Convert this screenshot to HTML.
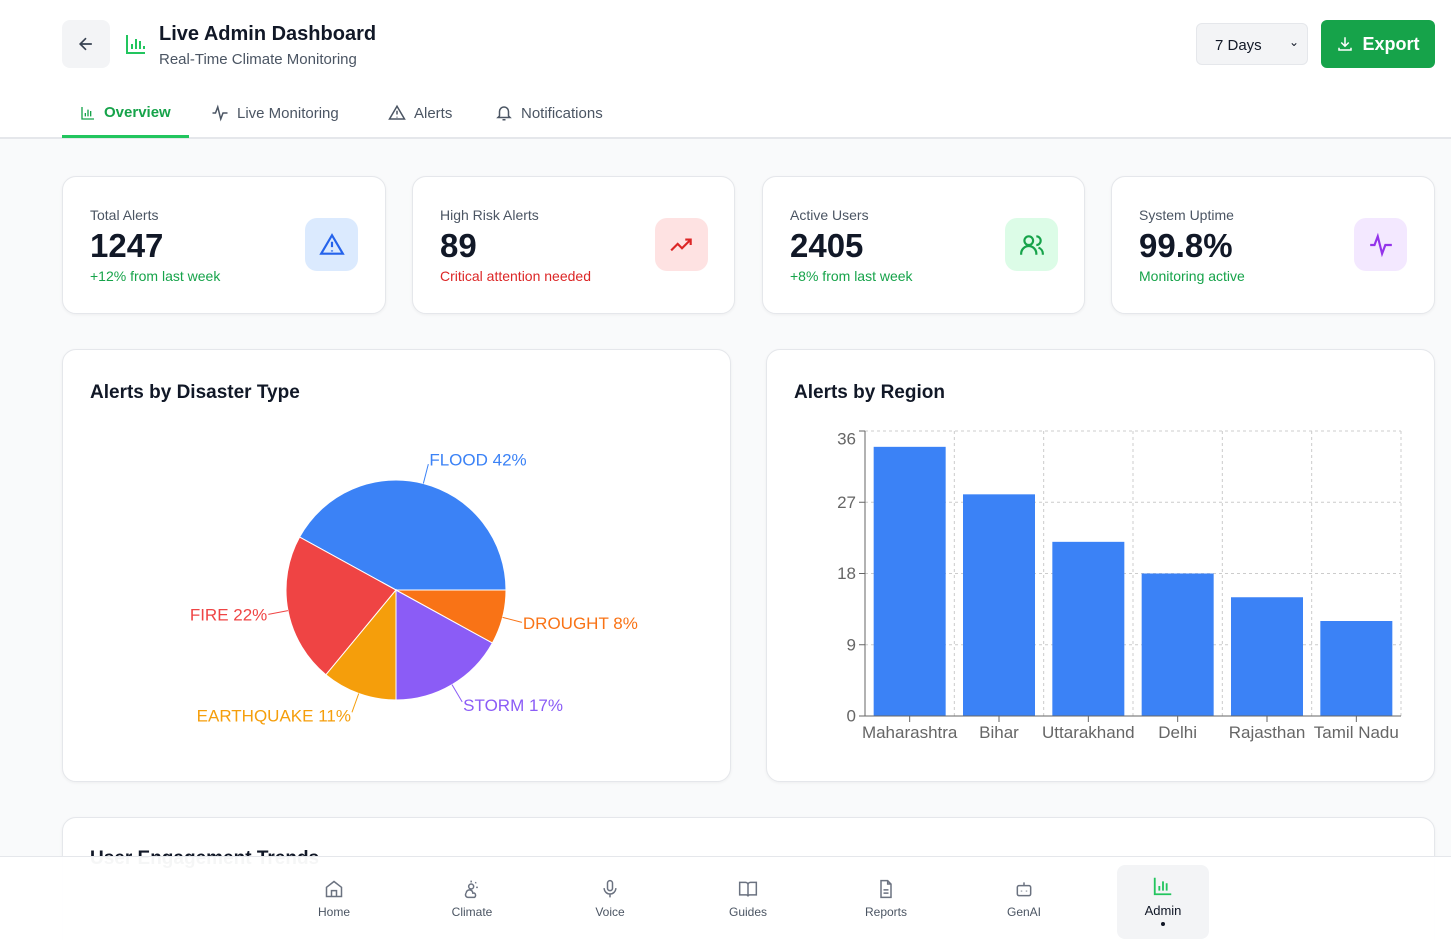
<!DOCTYPE html>
<html><head><meta charset="utf-8">
<style>
*{box-sizing:border-box;margin:0;padding:0}
html,body{width:1451px;height:940px;overflow:hidden}
body{background:#f9fafb;font-family:"Liberation Sans",sans-serif;color:#111827;position:relative}
.header{position:absolute;left:0;top:0;width:1451px;height:139px;background:#fff;border-bottom:2px solid #e5e7eb}
.back{position:absolute;left:62px;top:20px;width:48px;height:48px;border-radius:8px;background:#f3f4f6;display:flex;align-items:center;justify-content:center}
.title{position:absolute;left:159px;top:23px;font-size:20px;font-weight:bold}
.sub{position:absolute;left:159px;top:51px;font-size:15px;color:#4b5563}
.sel{position:absolute;left:1196px;top:23px;width:112px;height:42px;border:1px solid #e5e7eb;border-radius:6px;background:#f3f4f6;font-size:15px;padding:13px 18px}
.exp{position:absolute;left:1321px;top:20px;width:114px;height:48px;border-radius:6px;background:#16a34a;color:#fff;font-weight:bold;font-size:18px;display:flex;align-items:center;justify-content:center;gap:8px}
.tab{position:absolute;top:104px;font-size:15px;color:#4b5563;display:flex;align-items:center;gap:8px}
.card{position:absolute;background:#fff;border:1px solid #e5e7eb;border-radius:14px;box-shadow:0 1px 3px rgba(0,0,0,.05)}
.lbl{position:absolute;left:27px;top:30px;font-size:14px;color:#4b5563}
.val{position:absolute;left:27px;top:50px;font-size:33px;font-weight:bold}
.note{position:absolute;left:27px;top:91px;font-size:14px}
.ic{position:absolute;left:242px;top:41px;width:53px;height:53px;border-radius:12px;display:flex;align-items:center;justify-content:center}
.ctitle{position:absolute;left:27px;top:32px;font-size:19px;font-weight:bold}
.nav{position:absolute;left:0;top:856px;width:1451px;height:84px;background:rgba(255,255,255,.96);border-top:1px solid #e5e7eb}
.ni{position:absolute;top:0;width:92px;height:84px;display:flex;flex-direction:column;align-items:center;padding-top:22px;font-size:12px;color:#4b5563;gap:6px}
</style></head><body>
<div class="header">
 <div class="back"><svg width="20" height="20" viewBox="0 0 24 24" fill="none" stroke="#374151" stroke-width="2"><path d="M19 12H5M12 19l-7-7 7-7"/></svg></div>
 <svg style="position:absolute;left:124px;top:32px" width="24" height="24" viewBox="0 0 24 24" fill="none" stroke="#22c55e" stroke-width="2"><path d="M3 3v18h18M8 17v-5M12 17V7M16 17v-8M20 17v-3"/></svg>
 <div class="title">Live Admin Dashboard</div>
 <div class="sub">Real-Time Climate Monitoring</div>
 <div class="sel">7 Days<span style="position:absolute;right:8px;top:11px;font-size:12px">&#x2304;</span></div>
 <div class="exp"><svg width="18" height="18" viewBox="0 0 24 24" fill="none" stroke="#fff" stroke-width="2"><path d="M12 3v12M7 10l5 5 5-5M4 17v3h16v-3"/></svg>Export</div>
 <div class="tab" style="left:80px;color:#16a34a;font-weight:bold"><svg width="16" height="16" viewBox="0 0 24 24" fill="none" stroke="#16a34a" stroke-width="2"><path d="M3 3v18h18M8 17v-5M12 17V7M16 17v-8"/></svg>Overview</div>
 <div style="position:absolute;left:62px;top:135px;width:127px;height:3px;background:#22c55e"></div>
 <div class="tab" style="left:211px"><svg width="18" height="18" viewBox="0 0 24 24" fill="none" stroke="#4b5563" stroke-width="2"><path d="M2 12h4l3-8 4 16 3-8h6"/></svg>Live Monitoring</div>
 <div class="tab" style="left:388px"><svg width="18" height="18" viewBox="0 0 24 24" fill="none" stroke="#4b5563" stroke-width="2"><path d="M12 3L2 20h20zM12 9v5M12 17v1"/></svg>Alerts</div>
 <div class="tab" style="left:495px"><svg width="18" height="18" viewBox="0 0 24 24" fill="none" stroke="#4b5563" stroke-width="2"><path d="M6 16V10a6 6 0 0112 0v6l2 2H4zM10 21h4"/></svg>Notifications</div>
</div>

<div class="card" style="left:62px;top:176px;width:324px;height:138px">
 <div class="lbl">Total Alerts</div><div class="val">1247</div><div class="note" style="color:#16a34a">+12% from last week</div>
 <div class="ic" style="background:#dbeafe"><svg width="26" height="26" viewBox="0 0 24 24" fill="none" stroke="#2563eb" stroke-width="2"><path d="M12 3L2 20h20zM12 9v5M12 17v1"/></svg></div></div>
<div class="card" style="left:412px;top:176px;width:323px;height:138px">
 <div class="lbl">High Risk Alerts</div><div class="val">89</div><div class="note" style="color:#dc2626">Critical attention needed</div>
 <div class="ic" style="background:#fee2e2"><svg width="26" height="26" viewBox="0 0 24 24" fill="none" stroke="#dc2626" stroke-width="2"><path d="M2 17l6-6 4 4 8-8M15 7h5v5"/></svg></div></div>
<div class="card" style="left:762px;top:176px;width:323px;height:138px">
 <div class="lbl">Active Users</div><div class="val">2405</div><div class="note" style="color:#16a34a">+8% from last week</div>
 <div class="ic" style="background:#dcfce7"><svg width="26" height="26" viewBox="0 0 24 24" fill="none" stroke="#16a34a" stroke-width="2"><circle cx="9" cy="8" r="4"/><path d="M2 21v-1a6 6 0 0114 0v1M16 4a4 4 0 010 8M22 21v-1a6 6 0 00-4-5.6"/></svg></div></div>
<div class="card" style="left:1111px;top:176px;width:324px;height:138px">
 <div class="lbl">System Uptime</div><div class="val">99.8%</div><div class="note" style="color:#16a34a">Monitoring active</div>
 <div class="ic" style="background:#f3e8ff"><svg width="26" height="26" viewBox="0 0 24 24" fill="none" stroke="#9333ea" stroke-width="2"><path d="M2 12h4l3-8 4 16 3-8h6"/></svg></div></div>

<div class="card" style="left:62px;top:349px;width:669px;height:433px">
 <div class="ctitle">Alerts by Disaster Type</div></div>
<div class="card" style="left:766px;top:349px;width:669px;height:433px">
 <div class="ctitle">Alerts by Region</div></div>
<div class="card" style="left:62px;top:817px;width:1373px;height:140px">
 <div class="ctitle" style="top:30px">User Engagement Trends</div></div>

<svg id="charts" style="position:absolute;left:0;top:0" width="1451" height="940" font-family="Liberation Sans, sans-serif"></svg>

<div class="nav">
 <div class="ni" style="left:288px"><svg width="20" height="20" viewBox="0 0 24 24" fill="none" stroke="#6b7280" stroke-width="1.8"><path d="M3 10l9-7 9 7v11H3zM9 21v-7h6v7"/></svg>Home</div>
 <div class="ni" style="left:426px"><svg width="20" height="20" viewBox="0 0 24 24" fill="none" stroke="#6b7280" stroke-width="1.8"><circle cx="11" cy="9" r="3"/><path d="M11 2v2M17 4l-1 1M19 10h-2M5 17a4 4 0 018 0h2a3 3 0 010 5H7a3 3 0 01-2-5"/></svg>Climate</div>
 <div class="ni" style="left:564px"><svg width="20" height="20" viewBox="0 0 24 24" fill="none" stroke="#6b7280" stroke-width="1.8"><rect x="9" y="2" width="6" height="12" rx="3"/><path d="M5 11a7 7 0 0014 0M12 18v4"/></svg>Voice</div>
 <div class="ni" style="left:702px"><svg width="20" height="20" viewBox="0 0 24 24" fill="none" stroke="#6b7280" stroke-width="1.8"><path d="M2 4h7a3 3 0 013 3v14a2 2 0 00-2-2H2zM22 4h-7a3 3 0 00-3 3v14a2 2 0 012-2h8z"/></svg>Guides</div>
 <div class="ni" style="left:840px"><svg width="20" height="20" viewBox="0 0 24 24" fill="none" stroke="#6b7280" stroke-width="1.8"><path d="M14 2H6v20h12V6zM14 2v4h4M9 13h6M9 17h6"/></svg>Reports</div>
 <div class="ni" style="left:978px"><svg width="20" height="20" viewBox="0 0 24 24" fill="none" stroke="#6b7280" stroke-width="1.8"><rect x="4" y="8" width="16" height="12" rx="2"/><path d="M12 4v4M9 14v1M15 14v1"/></svg>GenAI</div>
 <div class="ni" style="left:1117px;top:8px;height:74px;padding-top:10px;background:#f3f4f6;border-radius:8px;color:#111827;font-size:13px"><svg width="22" height="22" viewBox="0 0 24 24" fill="none" stroke="#22c55e" stroke-width="2"><path d="M3 3v18h18M8 17v-5M12 17V7M16 17v-8"/></svg>Admin<span style="width:4px;height:4px;border-radius:2px;background:#111827;margin-top:-2px"></span></div>
</div>

<script>
const pieNames=["FLOOD","FIRE","EARTHQUAKE","STORM","DROUGHT"];
const pieValues=[42,22,11,17,8];
const pieColors=["#3b82f6","#ef4444","#f59e0b","#8b5cf6","#f97316"];
const regions=["Maharashtra","Bihar","Uttarakhand","Delhi","Rajasthan","Tamil Nadu"];
const regionValues=[34,28,22,18,15,12];
const yTicks=[0,9,18,27,36];
const NS="http://www.w3.org/2000/svg";
const svg=document.getElementById('charts');
function mk(t,a,p){const e=document.createElementNS(NS,t);for(const k in a)e.setAttribute(k,a[k]);(p||svg).appendChild(e);return e;}
// Pie
const cx=396,cy=590,R=110;
const total=pieValues.reduce((a,b)=>a+b,0);
let ang=0;
const pt=(a,r)=>[cx+r*Math.cos(a*Math.PI/180),cy-r*Math.sin(a*Math.PI/180)];
pieValues.forEach((v,i)=>{
 const sweep=v/total*360,a0=ang,a1=ang+sweep;ang=a1;
 const p0=pt(a0,R),p1=pt(a1,R);
 const s=mk('path',{d:`M${cx},${cy}L${p0[0]},${p0[1]}A${R},${R} 0 ${sweep>180?1:0} 0 ${p1[0]},${p1[1]}Z`,fill:pieColors[i],stroke:'#fff','stroke-width':1});
 
 
 const m=(a0+a1)/2,l0=pt(m,R),l1=pt(m,R+20),lt=pt(m,R+20);
 const ln=mk('path',{d:`M${l0[0]},${l0[1]}L${l1[0]},${l1[1]}`,stroke:pieColors[i],fill:'none'});
 
 
 const c=Math.cos(m*Math.PI/180),sn=Math.sin(m*Math.PI/180);
 const t=mk('text',{x:lt[0]+(c>=0?1:-1),y:lt[1]-sn*4,fill:pieColors[i],'font-size':17,'text-anchor':c>=0?'start':'end','dominant-baseline':'central'});
 t.textContent=pieNames[i]+' '+Math.round(v/total*100)+'%';
 
 
});
// Bar
const x0=865,x1=1401,yb=716,yt=431,yMax=36;
const bw=(x1-x0)/regions.length;
const ys=v=>yb-(v/yMax)*(yb-yt);
yTicks.forEach(tk=>{
 if(tk>0){const g=mk('line',{x1:x0,x2:x1,y1:ys(tk),y2:ys(tk),stroke:'#ccc','stroke-dasharray':'3 3'});}
 const tl=mk('line',{x1:x0-6,x2:x0,y1:ys(tk),y2:ys(tk),stroke:'#666'});
 
 
 const t=mk('text',{x:x0-9,y:ys(tk)+(tk===36?8:0),'font-size':17,fill:'#666','text-anchor':'end','dominant-baseline':'central'});
 t.textContent=tk;
 
 
});
for(let i=0;i<=regions.length;i++){const g=mk('line',{x1:x0+i*bw,x2:x0+i*bw,y1:yt,y2:yb,stroke:'#ccc','stroke-dasharray':'3 3'});}
regions.forEach((r,i)=>{
 const bx=x0+i*bw+(bw-72)/2;
 const b=mk('rect',{x:bx,y:ys(regionValues[i]),width:72,height:yb-ys(regionValues[i]),fill:'#3b82f6'});
 
 
 const cxp=x0+(i+0.5)*bw;
 const tk=mk('line',{x1:cxp,x2:cxp,y1:yb,y2:yb+6,stroke:'#666'});
 
 
 const t=mk('text',{x:cxp,y:yb+22,'font-size':17,fill:'#666','text-anchor':'middle'});
 t.textContent=r;
 
 
});
const ax=mk('path',{d:`M${x0},${yt}V${yb}H${x1}`,stroke:'#666',fill:'none'});


</script>
</body></html>
